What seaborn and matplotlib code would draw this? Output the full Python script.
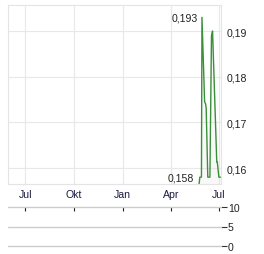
import matplotlib
matplotlib.use("Agg")
import matplotlib.pyplot as plt
import seaborn as sns
import pandas as pd
import numpy as np

# ---- data ----
dates = ["2024-05-24", "2024-05-26", "2024-05-29", "2024-05-30", "2024-06-04",
         "2024-06-06", "2024-06-07", "2024-06-10", "2024-06-14", "2024-06-17",
         "2024-06-19", "2024-06-27", "2024-06-28", "2024-07-01", "2024-07-04"]
prices = [0.156, 0.158, 0.158, 0.193, 0.1745,
          0.174, 0.173, 0.158, 0.158, 0.189,
          0.190, 0.1613, 0.1613, 0.158, 0.158]
month_ticks = ["2023-07-01", "2023-10-01", "2024-01-01", "2024-04-01", "2024-07-01"]
month_labels = ["Jul", "Okt", "Jan", "Apr", "Jul"]
price_ticks = [0.16, 0.17, 0.18, 0.19]
price_labels = ["0,16", "0,17", "0,18", "0,19"]
vol_ticks = [0, 5, 10]
vol_labels = ["0", "5", "10"]
max_label = "0,193"
min_label = "0,158"

df = pd.DataFrame({"date": pd.to_datetime(dates), "price": prices})

sns.set_style("white")
plt.rcParams["font.family"] = ["Liberation Sans", "DejaVu Sans"]

W, H = 264, 255
fig = plt.figure(figsize=(W / 100, H / 100), dpi=100)

def rect(l, t, r, b):
    return [l / W, (H - b) / H, (r - l) / W, (b - t) / H]

xmin = pd.Timestamp("2023-05-29")
xmax = pd.Timestamp("2024-07-05")
FS = 7.6

ax = fig.add_axes(rect(8, 6, 221, 185))
green = "#3a8f3a"
ax.fill_between(df["date"], df["price"], 0.15, color="#dcdcdc", alpha=0.2, lw=0)
sns.lineplot(data=df, x="date", y="price", ax=ax, color=green, lw=1.0)
ax.set_xlim(xmin, xmax)
ax.set_ylim(0.1565, 0.1957)
ax.set_xlabel("")
ax.set_ylabel("")
ax.set_xticks(pd.to_datetime(month_ticks))
ax.set_xticklabels(month_labels)
ax.set_yticks(price_ticks)
ax.set_yticklabels(price_labels)
ax.yaxis.tick_right()
ax.tick_params(axis="x", length=0, pad=3.5, labelsize=FS, labelcolor="#1a1a40")
ax.tick_params(axis="y", length=0, pad=4, labelsize=FS, labelcolor="#222222")
ax.grid(True, color="#e8e8e8", lw=0.8)
for s in ax.spines.values():
    s.set_color("#e4e4e4")
    s.set_linewidth(0.8)

imax = int(np.argmax(prices))
ax.annotate(max_label, (df["date"][imax], prices[imax]), xytext=(-3, 0),
            textcoords="offset points", ha="right", va="center", fontsize=FS, color="#222222")
ax.annotate(min_label, (df["date"][1], prices[1]), xytext=(-4, 0),
            textcoords="offset points", ha="right", va="center", fontsize=FS, color="#222222")

# ---- volume panel ----
ax2 = fig.add_axes(rect(8, 208, 221, 247))
ax2.set_xlim(xmin, xmax)
ax2.set_ylim(0, 10)
for s in ax2.spines.values():
    s.set_visible(False)
for v in vol_ticks:
    ax2.axhline(v, color="#cccccc", lw=1.0, clip_on=False)
ax2.set_yticks(vol_ticks)
ax2.set_yticklabels(vol_labels)
ax2.yaxis.tick_right()
ax2.tick_params(axis="y", length=4, width=0.8, color="#333333", pad=1,
                labelsize=FS, labelcolor="#222222")
ax2.xaxis.set_ticks_position("top")
ax2.set_xticks(pd.to_datetime(month_ticks))
ax2.tick_params(axis="x", direction="in", length=3, width=0.8, color="#222222",
                labeltop=False, labelbottom=False)
ax2.set_facecolor("none")

fig.savefig("out.png", dpi=100)
